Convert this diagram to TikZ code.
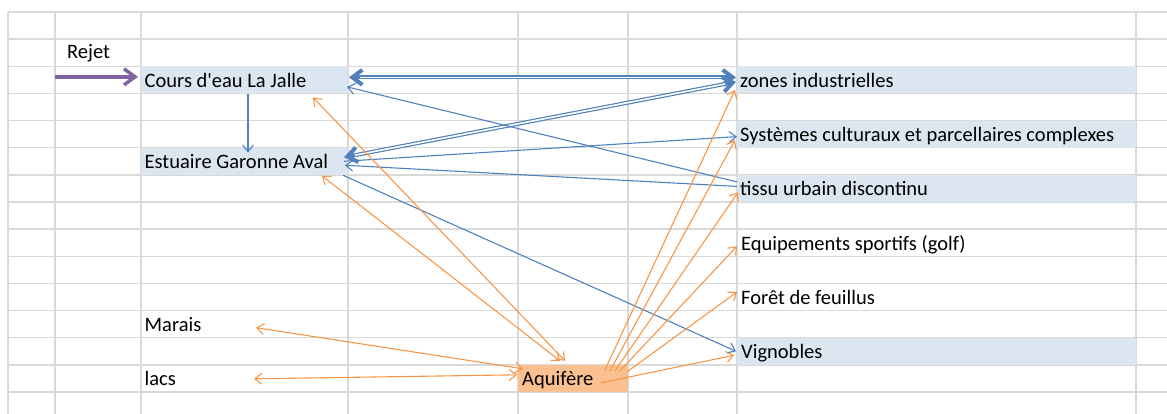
\documentclass[tikz,border=0pt]{standalone}
\usepackage{fontspec}
\setmainfont{Carlito}
\usetikzlibrary{arrows.meta,calc}
\definecolor{blueA}{HTML}{4F81BD}
\definecolor{orangeA}{HTML}{F79646}
\definecolor{purpleA}{HTML}{8064A2}
\definecolor{fillB}{HTML}{DCE6F1}
\definecolor{fillO}{HTML}{FAC090}
\definecolor{gridC}{HTML}{D9D9D9}
\newcommand\cellfont{\fontsize{20.5}{24}\selectfont}
\begin{document}
\begin{tikzpicture}[x=1pt,y=-1pt,
  gridline/.style={draw=gridC,line width=1.5pt},
  cell/.style={rectangle,inner sep=0pt,outer sep=0pt,anchor=north west,minimum height=27.14pt},
  lbl/.style={anchor=base west,inner sep=0pt,font=\cellfont,text=black},
  thinB/.style={draw=blueA,line width=1.1pt,-{Straight Barb[length=7pt,width=11pt]}},
  thinO/.style={draw=orangeA,line width=1.1pt,-{Straight Barb[length=7pt,width=11pt]}},
  thinOO/.style={draw=orangeA,line width=1.1pt,{Straight Barb[length=7pt,width=11pt]}-{Straight Barb[length=7pt,width=11pt]}},
  thickB/.style={draw=blueA,line width=4pt,{Straight Barb[length=10pt,width=15pt]}-{Straight Barb[length=10pt,width=15pt]}},
  dgap/.style={draw=white,line width=1.6pt,shorten <=11pt,shorten >=11pt},
  purpleArrow/.style={draw=purpleA,line width=3.5pt,-{Straight Barb[length=11pt,width=16pt]}}
]
\useasboundingbox (0,0) rectangle (1167,414);
% grid
\foreach \k in {0,...,14} \draw[gridline] (8,{12+27.14*\k}) -- (1167,{12+27.14*\k});
\foreach \x in {8,55,141,348,518,628,737,1136} \draw[gridline] (\x,12) -- (\x,414);
% cells
\node[cell,minimum width=86pt] (rejetC) at (55,39.14) {};
\node[cell,minimum width=207pt,fill=fillB] (coursC) at (141,66.28) {};
\node[cell,minimum width=207pt,fill=fillB] (estC) at (141,147.7) {};
\node[cell,minimum width=207pt] (maraisC) at (141,310.54) {};
\node[cell,minimum width=207pt] (lacsC) at (141,364.82) {};
\node[cell,minimum width=110pt,fill=fillO] (aqC) at (518,364.82) {};
\node[cell,minimum width=399pt,fill=fillB] (zonesC) at (737,66.28) {};
\node[cell,minimum width=399pt,fill=fillB] (sysC) at (737,120.56) {};
\node[cell,minimum width=399pt,fill=fillB] (tissuC) at (737,174.84) {};
\node[cell,minimum width=399pt] (equipC) at (737,229.12) {};
\node[cell,minimum width=399pt] (foretC) at (737,283.4) {};
\node[cell,minimum width=399pt,fill=fillB] (vignC) at (737,337.68) {};
% labels
\node[lbl] (rejetT) at ($(rejetC.south west)+(12,-8)$) {Rejet};
\node[lbl] (coursT) at ($(coursC.south west)+(3.5,-6)$) {Cours d\textquotesingle eau La Jalle};
\node[lbl] (estT) at ($(estC.south west)+(3.5,-6)$) {Estuaire Garonne Aval};
\node[lbl] (maraisT) at ($(maraisC.south west)+(3.5,-6)$) {Marais};
\node[lbl] (lacsT) at ($(lacsC.south west)+(3.5,-6)$) {lacs};
\node[lbl] (aqT) at ($(aqC.south west)+(4,-6)$) {Aquifère};
\node[lbl] (zonesT) at ($(zonesC.south west)+(3,-6)$) {zones industrielles};
\node[lbl] (sysT) at ($(sysC.south west)+(3,-6)$) {Systèmes culturaux et parcellaires complexes};
\node[lbl] (tissuT) at ($(tissuC.south west)+(3,-6)$) {tissu urbain discontinu};
\node[lbl] (equipT) at ($(equipC.south west)+(4,-6)$) {Equipements sportifs (golf)};
\node[lbl] (foretT) at ($(foretC.south west)+(4,-6)$) {Forêt de feuillus};
\node[lbl] (vignT) at ($(vignC.south west)+(4,-6)$) {Vignobles};
% purple arrow
\coordinate (rejetIn) at ($(coursC.west)+(-86,-3)$);
\draw[purpleArrow] (rejetIn) -- ($(coursC.west)+(-3,-3)$);
% thick double blue arrows
\draw[thickB] ($(coursC.east)+(1,-2.5)$) -- ($(zonesC.west)+(-1,-2.5)$);
\draw[dgap] ($(coursC.east)+(1,-2.5)$) -- ($(zonesC.west)+(-1,-2.5)$);
\draw[thickB] ($(estC.east)+(-4,-4)$) -- ($(zonesC.west)+(-1,2)$);
\draw[dgap] ($(estC.east)+(-4,-4)$) -- ($(zonesC.west)+(-1,2)$);
% thin blue arrows
\draw[thinB] ($(coursC.south)+(3.5,1)$) -- ($(estC.north)+(3.5,5)$);
\draw[thinB] ($(tissuC.west)+(0,-6.5)$) -- ($(coursC.east)+(-1,7)$);
\draw[thinB] ($(estC.east)+(-4,0)$) -- ($(sysC.west)+(0,2.5)$);
\draw[thinB] ($(tissuC.west)+(0,-2)$) -- ($(estC.east)+(-3,4)$);
\draw[thinB] ($(estC.east)+(-5,14)$) -- ($(vignC.west)+(-1,0)$);
% orange two-way arrows
\draw[thinOO] ($(coursC.south east)+(-35,4)$) -- ($(aqC.north west)+(47,-4)$);
\draw[thinOO] ($(estC.south east)+(-26,1)$) -- ($(aqC.north west)+(42,-4)$);
\draw[thinOO] ($(maraisC.south west)+(115,-10)$) -- ($(aqC.north west)+(5,4)$);
\draw[thinOO] ($(lacsC.north west)+(113,14)$) -- ($(aqC.north west)+(-1,10)$);
% orange arrows from aquifer
\draw[thinO] ($(aqC.north west)+(87,5)$) -- ($(zonesC.west)+(-2,10)$);
\draw[thinO] ($(aqC.north west)+(92,6)$) -- ($(sysC.west)+(-2,6)$);
\draw[thinO] ($(aqC.north west)+(97,6)$) -- ($(tissuC.west)+(1,4)$);
\draw[thinO] ($(aqC.north west)+(102,6)$) -- ($(equipC.west)+(0,3.5)$);
\draw[thinO] ($(aqC.north west)+(109,7)$) -- ($(foretC.west)+(0,-5)$);
\draw[thinO] ($(aqC.north west)+(83,18)$) -- ($(vignC.west)+(-3,4)$);
\end{tikzpicture}
\end{document}
